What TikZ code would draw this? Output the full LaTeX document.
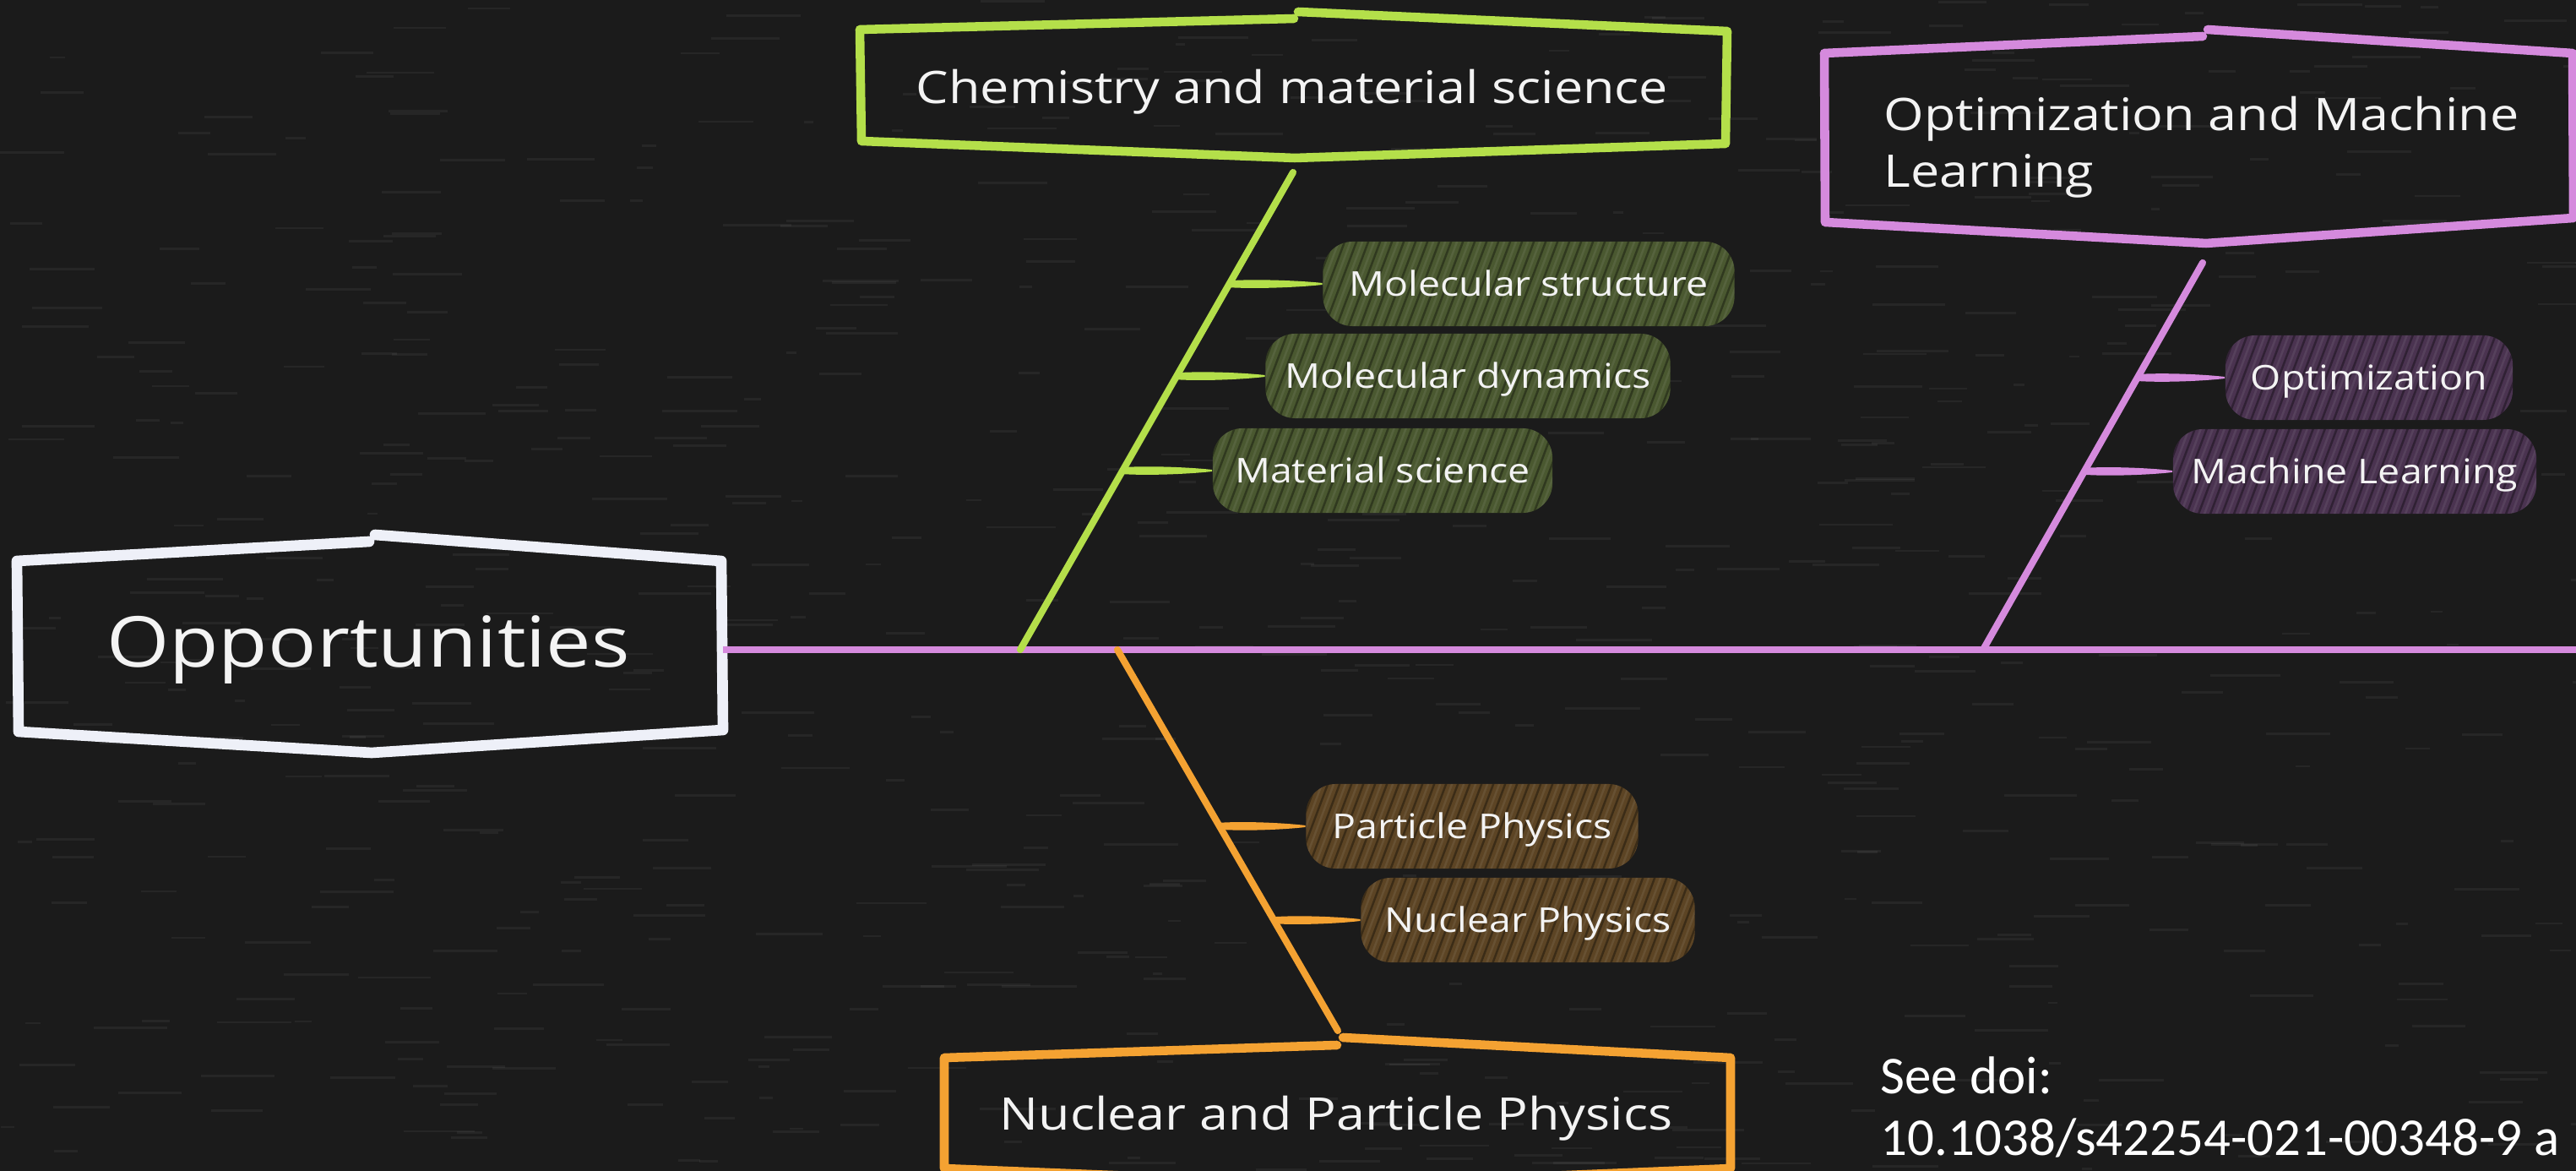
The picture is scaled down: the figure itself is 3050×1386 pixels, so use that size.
\documentclass[tikz,border=0pt]{standalone}
\usepackage{fontspec}
\newfontfamily\chalkfont[FakeStretch=1.15]{Open Sans}
\newfontfamily\doifont{Carlito}
\usetikzlibrary{calc}
\definecolor{bgc}{HTML}{1B1B1B}
\definecolor{limec}{HTML}{B4DF4A}
\definecolor{orchidc}{HTML}{D58ADD}
\definecolor{orangec}{HTML}{F4A232}
\definecolor{chalkw}{HTML}{EEF0F8}
\definecolor{gfill}{HTML}{4A5830}
\definecolor{pfill}{HTML}{4A3350}
\definecolor{ofill}{HTML}{5C4424}
\definecolor{txtc}{HTML}{F3F3F3}
\newcommand{\leafline}[3]{%
  \fill[#1] ($(#2)+(0,-4)$) .. controls ($(#2)!0.3!(#3)+(0,-6)$) and ($(#2)!0.75!(#3)+(0,-4)$) .. ($(#3)+(0,-1)$)
    -- ($(#3)+(0,1)$) .. controls ($(#2)!0.75!(#3)+(0,4)$) and ($(#2)!0.3!(#3)+(0,6)$) .. ($(#2)+(0,4)$) -- cycle;}
\begin{document}
\begin{tikzpicture}[x=0.01cm,y=-0.01cm,
  every node/.style={inner sep=0pt},
  titletext/.style={font=\chalkfont\fontsize{15.1pt}{19.3pt}\selectfont, text=txtc},
  sub/.style={font=\chalkfont\fontsize{11.5pt}{14pt}\selectfont, text=txtc,
    rounded corners=0.35cm, minimum height=1cm, text height=0.29cm, text depth=0pt,
    path picture={
      \foreach \k in {-4,...,36}{
        \draw[black, opacity=0.35, line width=0.7pt]
          ($(path picture bounding box.south west)+(\k*14,6)$) -- ++(45,-120);
        \draw[white, opacity=0.07, line width=0.7pt]
          ($(path picture bounding box.south west)+(\k*14+7,6)$) -- ++(45,-120);
      }}},
  boxline/.style={line width=3pt, line join=round, line cap=round},
  branch/.style={line width=2.3pt, line cap=round},
]
\useasboundingbox (0,0) rectangle (3050,1386);
\fill[bgc] (0,0) rectangle (3050,1386);
% chalk texture
\pgfmathsetseed{7}
\foreach \i in {1,...,700}{
  \pgfmathsetmacro\xx{rnd*3050}
  \pgfmathsetmacro\yy{rnd*1386}
  \pgfmathsetmacro\ll{10+rnd*80}
  \draw[white, opacity=0.05, line width=0.8pt] (\xx,\yy) -- ++(\ll,0);
}

% ---------- Opportunities ----------
\draw[boxline, chalkw, line width=3.6pt] (444,633) -- (854,664) -- (856,864) -- (440,891) -- (22,866) -- (20,664) -- (437,641);
\node[font=\chalkfont\fontsize{23.6pt}{28pt}\selectfont, text=txtc, anchor=base] (opp) at (436,790) {Opportunities};
\coordinate (oppR) at (856,769);
\coordinate (mainend) at (3050,769);
\draw[branch, orchidc, line cap=butt] (oppR) -- (mainend);

% ---------- Chemistry and material science ----------
\draw[boxline, limec] (1537,14) -- (2045,37) -- (2043,170) -- (1533,187) -- (1020,167) -- (1018,35) -- (1532,22);
\node[titletext, anchor=base] (chem) at (1530,123) {Chemistry and material science};
\coordinate (chemB) at (1208,769);
\coordinate (chemT) at (1531,204);
\draw[branch, limec] (chemB) -- (chemT);
\path (chemB) -- (chemT) coordinate[pos=0.766] (cg1) coordinate[pos=0.573] (cg2) coordinate[pos=0.375] (cg3);
\node[sub, fill=gfill, minimum width=4.87cm] (ms) at (1810,336) {Molecular structure};
\node[sub, fill=gfill, minimum width=4.79cm] (md) at (1738,445) {Molecular dynamics};
\node[sub, fill=gfill, minimum width=4.02cm] (mats) at (1637,557) {Material science};
\leafline{limec}{cg1}{ms.west}
\leafline{limec}{cg2}{md.west}
\leafline{limec}{cg3}{mats.west}

% ---------- Optimization and Machine Learning ----------
\draw[boxline, orchidc] (2614,35) -- (3046,63) -- (3047,258) -- (2612,288) -- (2161,263) -- (2160,63) -- (2608,43);
\node[titletext, align=left, anchor=north west] (optml) at (2230,113) {Optimization and Machine\\Learning};
\coordinate (optB) at (2348,769);
\coordinate (optT) at (2608,311);
\draw[branch, orchidc] (optB) -- (optT);
\path (optB) -- (optT) coordinate[pos=0.703] (cp1) coordinate[pos=0.461] (cp2);
\node[sub, fill=pfill, minimum width=3.40cm] (opt) at (2805,447) {Optimization};
\node[sub, fill=pfill, minimum width=4.30cm] (ml) at (2788,558) {Machine Learning};
\leafline{orchidc}{cp1}{opt.west}
\leafline{orchidc}{cp2}{ml.west}

% ---------- Nuclear and Particle Physics ----------
\draw[boxline, orangec] (1590,1228) -- (2049,1252) -- (2049,1383) -- (1590,1402) -- (1118,1383) -- (1118,1252) -- (1583,1237);
\node[titletext, anchor=base] (nuc) at (1582,1338) {Nuclear and Particle Physics};
\coordinate (nucT) at (1323,769);
\coordinate (nucB) at (1584,1220);
\draw[branch, orangec] (nucT) -- (nucB);
\path (nucT) -- (nucB) coordinate[pos=0.463] (co1) coordinate[pos=0.71] (co2);
\node[sub, fill=ofill, minimum width=3.93cm] (pp) at (1743,978) {Particle Physics};
\node[sub, fill=ofill, minimum width=3.95cm] (np) at (1809,1089) {Nuclear Physics};
\leafline{orangec}{co1}{pp.west}
\leafline{orangec}{co2}{np.west}

% ---------- reference ----------
\node[font=\doifont\fontsize{17.9pt}{20.8pt}\selectfont, text=white, align=left, anchor=north west] (doi) at (2226,1250) {See doi:\\10.1038/s42254-021-00348-9 a};
\end{tikzpicture}
\end{document}
